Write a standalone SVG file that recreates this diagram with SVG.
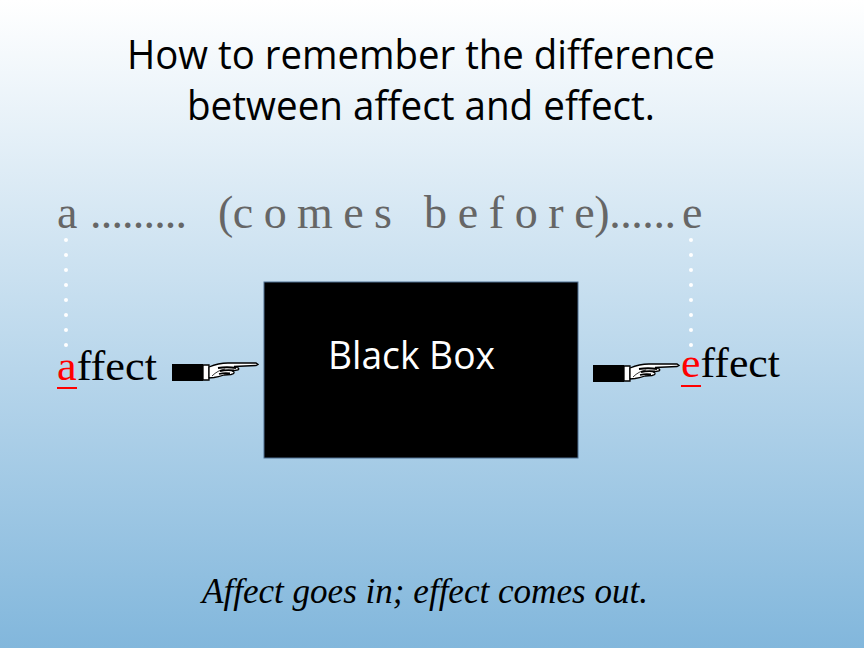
<svg xmlns="http://www.w3.org/2000/svg" xmlns:xlink="http://www.w3.org/1999/xlink" width="864" height="648" viewBox="0 0 864 648">
<defs>
<linearGradient id="bg" x1="0" y1="0" x2="0" y2="1">
<stop offset="0" stop-color="#ffffff"/>
<stop offset="1" stop-color="#82b7dc"/>
</linearGradient>
<g id="hand">
<rect x="0" y="0" width="31" height="17" fill="#000"/>
<path d="M31,1 L37,1 L37,16 L31,16 Z" fill="#fff" stroke="#000" stroke-width="1.3"/>
<path d="M37,3 C44,0 50,-1 56,-1 L84,-1 L86,0.5 L84,1.5 L62,2.5 C66,3.5 68,4.5 66,6 L60,7 C63,8 63,10 59,10.5 L52,11 C49,12 46,13 42,13.5 L37,14 Z" fill="#fff" stroke="#000" stroke-width="1.3"/>
<path d="M46,4 C52,3 58,3 64,4 M48,7 C53,6 57,6 62,6.5 M47,10 C51,9 55,9 58,9.5" fill="none" stroke="#000" stroke-width="1.8"/>
<path d="M40,12 C44,8 48,6 53,5" fill="none" stroke="#000" stroke-width="0.8"/>
</g>
</defs>
<style>
.title{font-family:"Open Sans","Liberation Sans",sans-serif;font-size:40px;fill:#000}
.gray{font-family:"Liberation Serif","Times New Roman",serif;font-size:46px;fill:#666}
.word{font-family:"Liberation Serif","Times New Roman",serif;font-size:43px;fill:#000}
.red{fill:#ff0000}
.dots{stroke:#fff;stroke-width:4;stroke-linecap:round;stroke-dasharray:0 15}
.cap{font-family:"Liberation Serif","Times New Roman",serif;font-style:italic;font-size:36px;fill:#000}
</style>
<rect x="0" y="0" width="864" height="648" fill="url(#bg)"/>
<g id="title">
<text class="title" x="127" y="69" textLength="588" lengthAdjust="spacingAndGlyphs">How to remember the difference</text>
<text class="title" x="187" y="120" textLength="468" lengthAdjust="spacingAndGlyphs">between affect and effect.</text>
</g>
<g id="mnemonic">
<text class="gray" x="57" y="228">a</text>
<text class="gray" x="90" y="228" textLength="97" lengthAdjust="spacing">.........</text>
<text class="gray" x="218" y="228" textLength="174" lengthAdjust="spacing">(c o m e s</text>
<text class="gray" x="424" y="228" textLength="252" lengthAdjust="spacing">b e f o r e)......</text>
<text class="gray" x="682" y="228">e</text>
</g>
<g id="connectors">
<line class="dots" x1="66" y1="240" x2="66" y2="346"/>
<line class="dots" x1="691" y1="240" x2="691" y2="346"/>
<use xlink:href="#hand" href="#hand" transform="translate(172,364)"/>
<use xlink:href="#hand" href="#hand" transform="translate(593,365)"/>
</g>
<g id="affect">
<text class="word" x="57" y="380" textLength="100" lengthAdjust="spacingAndGlyphs"><tspan class="red">a</tspan>ffect</text>
<rect x="57" y="387" width="20" height="2" fill="#ff0000"/>
</g>
<g id="black-box">
<rect x="264" y="282" width="314" height="176" fill="#000" stroke="#4f6f90" stroke-width="1"/>
<text x="328" y="369" font-family="Open Sans, Liberation Sans, sans-serif" font-size="38" fill="#fff" textLength="167" lengthAdjust="spacingAndGlyphs">Black Box</text>
</g>
<g id="effect">
<text class="word" x="681" y="377" textLength="99" lengthAdjust="spacingAndGlyphs"><tspan class="red">e</tspan>ffect</text>
<rect x="681" y="385" width="20" height="2" fill="#ff0000"/>
</g>
<g id="caption">
<text class="cap" x="202" y="603" textLength="446" lengthAdjust="spacingAndGlyphs">Affect goes in; effect comes out.</text>
</g>
</svg>
